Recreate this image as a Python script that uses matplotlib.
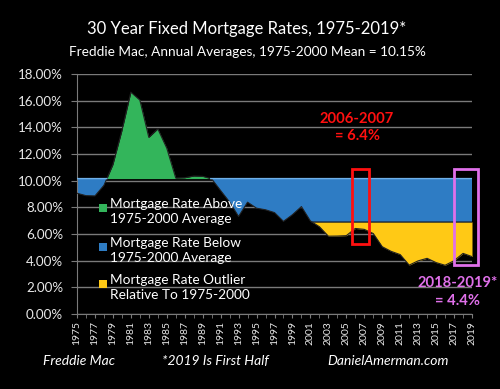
import numpy as np
import matplotlib
matplotlib.use("Agg")
import matplotlib.pyplot as plt
from matplotlib.patches import Rectangle

years = list(range(1975, 2020))
rates = [9.05, 8.87, 8.85, 9.64, 11.20, 13.74, 16.63, 16.04, 13.24, 13.88,
         12.43, 10.19, 10.21, 10.34, 10.32, 10.13, 9.25, 8.39, 7.31, 8.38,
         7.93, 7.81, 7.60, 6.94, 7.44, 8.05, 6.97, 6.54, 5.83, 5.84,
         5.87, 6.41, 6.34, 6.03, 5.04, 4.69, 4.45, 3.66, 3.98, 4.17,
         3.85, 3.65, 3.99, 4.54, 4.30]
mean_rate = 10.15
outlier_level = 6.9
ytick_vals = [0, 2, 4, 6, 8, 10, 12, 14, 16, 18]
xtick_years = list(range(1975, 2020, 2))
legend_labels = ["Mortgage Rate Above\n1975-2000 Average",
                 "Mortgage Rate Below\n1975-2000 Average",
                 "Mortgage Rate Outlier\nRelative To 1975-2000"]

GREEN = "#33B55B"
BLUE = "#2E7CC4"
YELLOW = "#FFC915"
RED = "#FF1010"
VIOLET = "#E070EA"
FONT = ["Lato", "DejaVu Sans"]

x = np.array(years, dtype=float)
r = np.array(rates)
xd = np.linspace(x[0], x[-1], 2000)
rd = np.interp(xd, x, r)

fig = plt.figure(figsize=(5, 3.89), dpi=100, facecolor="black")
ax = fig.add_axes([0.154, 0.193, 0.79, 0.617], facecolor="black")

ax.fill_between(xd, mean_rate, rd, where=rd > mean_rate, color=GREEN, lw=0, zorder=2)
ax.fill_between(xd, np.maximum(rd, outlier_level), mean_rate, where=rd < mean_rate,
                color=BLUE, lw=0, zorder=2)
ax.fill_between(xd, rd, outlier_level, where=rd < outlier_level, color=YELLOW, lw=0, zorder=2)
ax.plot(xd, np.where(rd < outlier_level, outlier_level, np.nan), color="#1a2a40", lw=0.8, zorder=3)
ax.plot(x, r, color="#222222", lw=0.8, zorder=3)
ax.plot(xd, np.where(rd < mean_rate, mean_rate, np.nan), color="#6FB0E8", lw=1.0, zorder=3)

ax.set_xlim(1975, 2019)
ax.set_ylim(0, 18)
ax.set_yticks(ytick_vals)
ax.set_yticklabels([f"{v:.2f}%" for v in ytick_vals], fontsize=9.6, color="#E8E8E8", family=FONT)
ax.yaxis.grid(True, color="#7a7a7a", lw=1.0, zorder=0)
ax.set_axisbelow(True)
ax.set_xticks(xtick_years)
ax.set_xticks(years, minor=True)
ax.set_xticklabels([str(y) for y in xtick_years], rotation=90, fontsize=7.5,
                   color="#E8E8E8", family=FONT)
ax.tick_params(axis="y", length=4, color="#7a7a7a", pad=6)
ax.tick_params(axis="x", which="both", length=3, color="#7a7a7a", pad=2)
for s in ["top", "right"]:
    ax.spines[s].set_visible(False)
ax.spines["left"].set_color("#7a7a7a")
ax.spines["bottom"].set_color("#7a7a7a")

# highlight boxes
ax.add_patch(Rectangle((2005.6, 5.25), 1.9, 5.65, fill=False, ec=RED, lw=2, zorder=5))
ax.add_patch(Rectangle((2017.0, 3.7), 2.65, 7.2, fill=False, ec=VIOLET, lw=2,
                       zorder=5, clip_on=False))

ax.text(2006.2, 14.0, "2006-2007\n= 6.4%", color=RED, fontsize=10.6, fontweight="bold",
        ha="center", va="center", family=FONT, linespacing=1.3, zorder=6)
ax.text(2017.4, 1.65, "2018-2019*\n= 4.4%", color=VIOLET, fontsize=10.6, fontweight="bold",
        ha="center", va="center", family=FONT, linespacing=1.3, zorder=6, clip_on=False)

# legend
leg_colors = [GREEN, BLUE, YELLOW]
leg_y = [208, 247, 284]
for c, yy, lab in zip(leg_colors, leg_y, legend_labels):
    fy = 1 - yy / 389
    fig.patches.append(Rectangle((99 / 500, fy - 0.009), 0.015, 0.019,
                                 transform=fig.transFigure, fc=c, ec="none", zorder=6))
    fig.text(110 / 500, fy + 0.025, lab, color="white", fontsize=9.8, family=FONT,
             va="top", ha="left", linespacing=1.3, zorder=7)

fig.text(0.494, 1 - 29 / 389, "30 Year Fixed Mortgage Rates, 1975-2019*", color="white",
         fontsize=12, ha="center", va="center", family=FONT)
fig.text(0.494, 1 - 52 / 389, "Freddie Mac, Annual Averages, 1975-2000 Mean = 10.15%",
         color="white", fontsize=9.8, ha="center", va="center", family=FONT)

fig.text(43 / 500, 1 - 361 / 389, "Freddie Mac", color="white", fontsize=10,
         style="italic", ha="left", va="center", family=FONT)
fig.text(162 / 500, 1 - 361 / 389, "*2019 Is First Half", color="white", fontsize=10,
         style="italic", ha="left", va="center", family=FONT)
fig.text(327 / 500, 1 - 361 / 389, "DanielAmerman.com", color="white", fontsize=10,
         style="italic", ha="left", va="center", family=FONT)

fig.savefig("out.png", dpi=100, facecolor="black")
